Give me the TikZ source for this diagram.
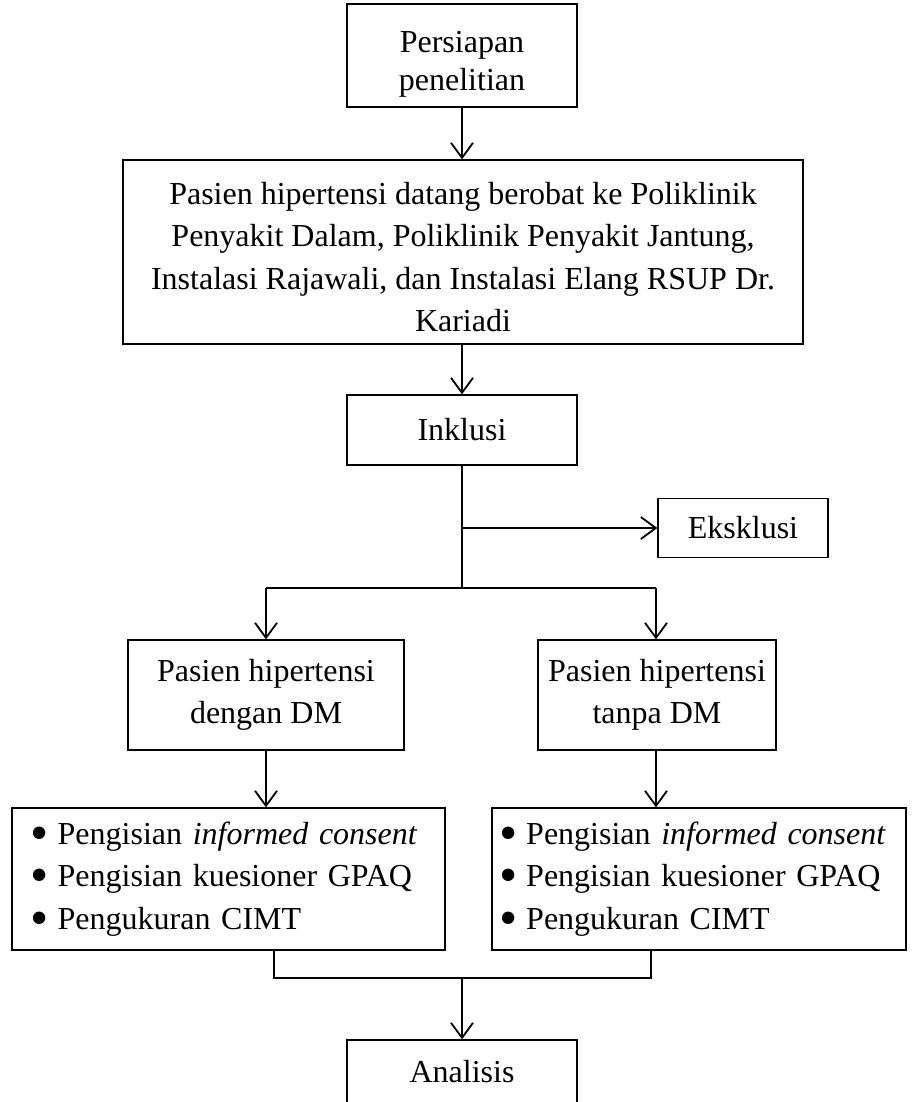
\documentclass[tikz,border=0pt]{standalone}
\usepackage{fontspec}
\setmainfont{Liberation Serif}
\usetikzlibrary{arrows.meta,calc}
\newcommand{\blt}{\hspace{-3pt}\smash{\raisebox{-6pt}{\fontsize{52}{52}\selectfont\char"2022}}\hspace{9pt}}
\newcommand{\dn}{\rule{0pt}{32pt}}
\newcommand{\dnn}{\rule{0pt}{38pt}}
\begin{document}
\begin{tikzpicture}[x=1pt,y=-1pt,
  box/.style={draw,line width=1.3pt,inner sep=0pt,align=center,font=\fontsize{32}{42.5}\selectfont},
  conn/.style={line width=1.8pt},
  arr/.style={conn,-{Straight Barb[length=15pt,width=22pt,line width=1.8pt]}}]
\useasboundingbox (0,0) rectangle (912,1102);
\node[box,minimum width=230pt,minimum height=103pt,font=\fontsize{32}{38}\selectfont] (b1) at (462,55.5) {\dnn Persiapan\\penelitian};
\node[box,minimum width=680pt,minimum height=184pt] (b2) at (463,252) {\dn Pasien hipertensi datang berobat ke Poliklinik\\Penyakit Dalam, Poliklinik Penyakit Jantung,\\Instalasi Rajawali, dan Instalasi Elang RSUP Dr.\\Kariadi};
\node[box,minimum width=230pt,minimum height=70pt] (b3) at (462,430) {Inklusi};
\node[box,minimum width=170pt,minimum height=59pt] (eks) at (743,528) {Eksklusi};
\node[box,minimum width=276pt,minimum height=110pt] (lm) at (266,695) {Pasien hipertensi\\dengan DM};
\node[box,minimum width=238pt,minimum height=110pt] (rm) at (657,695) {Pasien hipertensi\\tanpa DM};
\node[box,minimum height=142pt,align=left,text width=390pt,inner xsep=21.5pt] (lb) at (228.5,879) {\blt Pengisian \textit{informed consent}\\\blt Pengisian kuesioner GPAQ\\\blt Pengukuran CIMT};
\node[box,minimum height=142pt,align=left,text width=394pt,inner xsep=10pt] (rb) at (699,879) {\blt Pengisian \textit{informed consent}\\\blt Pengisian kuesioner GPAQ\\\blt Pengukuran CIMT};
\node[box,minimum width=230pt,minimum height=64pt] (an) at (462,1072) {Analisis};
\coordinate (split) at (462,588);
\coordinate (br) at (462,528);
\coordinate (ll) at (266,588);
\coordinate (rr) at (656,588);
\coordinate (jl) at (274,978);
\coordinate (jr) at (651,978);
\coordinate (jm) at (462,978);
\draw[arr] (b1.south) -- (b1.south |- b2.north);
\draw[arr] (b3.north |- b2.south) -- (b3.north);
\draw[conn] (b3.south) -- (split);
\draw[arr] (br) -- (eks.west);
\draw[conn] (ll) -- (rr);
\draw[arr] (ll) -- (lm.north);
\draw[arr] (rr) -- (rr |- rm.north);
\draw[arr] (lm.south) -- (lm.south |- lb.north);
\draw[arr] (rr |- rm.south) -- (rr |- rb.north);
\draw[conn] (jl |- lb.south) -- (jl) -- (jr) -- (jr |- rb.south);
\draw[arr] (jm) -- (an.north);
\end{tikzpicture}
\end{document}
